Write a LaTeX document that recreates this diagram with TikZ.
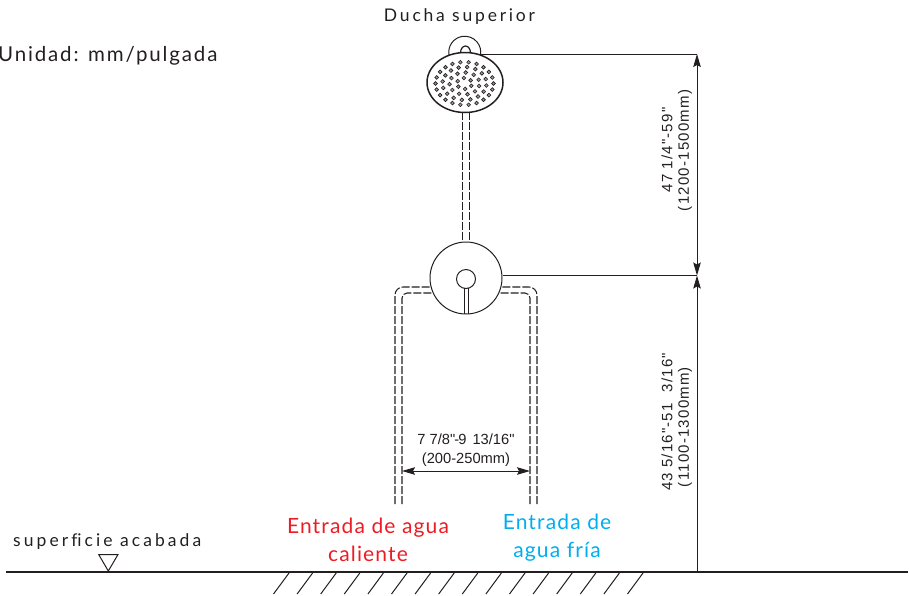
\documentclass[tikz,border=0pt]{standalone}
\usepackage{fontspec}
\setmainfont{Lato}
\newfontfamily\dimfont{Liberation Sans}
\newfontfamily\dimfontr[LetterSpace=8]{Liberation Sans}
\newfontfamily\lblfont[LetterSpace=16]{Lato}
\newfontfamily\surffont[LetterSpace=17.5]{Lato}
\newfontfamily\unitfont[LetterSpace=9]{Lato}
\newfontfamily\lblfontb[LetterSpace=5.5]{Lato}
\usetikzlibrary{arrows.meta,shapes.geometric}
\definecolor{ink}{HTML}{231F20}
\definecolor{hotc}{HTML}{ED1C24}
\definecolor{coldc}{HTML}{00AEEF}
\tikzset{
  x=1pt,y=-1pt,
  thinline/.style={draw=ink,line width=1pt},
  thickline/.style={draw=ink,line width=1.5pt},
  pipe/.style={draw=ink,line width=1.05pt,dash pattern=on 8pt off 2pt},
  tip/.tip={Stealth[length=13pt,width=7.5pt,inset=2pt]},
  dimarrow/.style={draw=ink,line width=1pt,tip-tip},
  dimtext/.style={font=\dimfontr\fontsize{15}{16}\selectfont,text=ink,inner sep=0pt,rotate=90},
  dimtexth/.style={font=\dimfont\fontsize{14.7}{16}\selectfont,text=ink,inner sep=0pt},
  lbl/.style={font=\lblfont\fontsize{17.5}{18}\selectfont,text=ink,inner sep=0pt},
  inlet/.style={font=\lblfontb\fontsize{21}{28}\selectfont,inner sep=0pt,align=center},
  spray/.style={circle,draw=ink,line width=0.6pt,fill=ink!45,minimum size=3.8pt,inner sep=0pt},
}
\begin{document}
\begin{tikzpicture}
\useasboundingbox (0,0) rectangle (909,595);
% labels
\node[lbl] (top) at (459.5,17) {Ducha superior};
\node[lbl,font=\unitfont\fontsize{20.5}{21}\selectfont,anchor=west] (unit) at (-2,55.5) {Unidad: mm/pulgada};
\node[lbl,font=\surffont\fontsize{17.5}{18}\selectfont,anchor=west] (surf) at (13,541.5) {superf\kern0pt icie acabada};
\node[inlet,text=hotc] (hot) at (368,540) {Entrada de agua\\ caliente};
\node[inlet,text=coldc] (cold) at (557,538) {Entrada de\\ agua fría};
% hook
\draw[thinline] (449,55) arc[start angle=170,end angle=370,radius=16];
\draw[thinline,line width=1.2pt] (460.5,53) arc[start angle=180,end angle=360,x radius=5,y radius=7];
% shower head
\node[ellipse,draw=ink,line width=1.5pt,fill=white,minimum width=76pt,minimum height=60pt,inner sep=0pt] (head) at (465,82.5) {};
\coordinate (headtop) at (481,54);
\foreach \rx/\ry/\n/\o in {29/21.5/22/0,22/16.5/16/7,15/11/11/13,7.5/5.5/6/25}{
  \foreach \i in {1,...,\n}{
    \node[spray] (d\rx-\i) at ({464.5+\rx*cos(\o+360*\i/\n)},{83.5+\ry*sin(\o+360*\i/\n)}) {};
  }
}
% vertical riser
\coordinate (ra1) at (462.4,112); \coordinate (rb1) at (462.4,243);
\coordinate (ra2) at (469.6,112); \coordinate (rb2) at (469.6,243);
\draw[pipe] (ra1) -- (rb1);
\draw[pipe] (ra2) -- (rb2);
% supply pipes
\coordinate (le) at (395,504); \coordinate (li) at (402,504);
\coordinate (re) at (537,504); \coordinate (ri) at (530,504);
\draw[pipe] (le) -- (395,295) arc[start angle=180,end angle=270,radius=8] -- (432,287);
\draw[pipe] (li) -- (402,298) arc[start angle=180,end angle=270,radius=5] -- (432,293);
\draw[pipe] (re) -- (537,295) arc[start angle=0,end angle=-90,radius=8] -- (500,287);
\draw[pipe] (ri) -- (530,298) arc[start angle=0,end angle=-90,radius=5] -- (500,293);
% valve
\node[circle,draw=ink,line width=1pt,fill=white,minimum size=72pt,inner sep=0pt] (valve) at (466,278) {};
\node[circle,draw=ink,line width=1pt,fill=white,minimum size=19pt,inner sep=0pt] (knob) at (466,279) {};
\draw[thinline] (464.3,288) -- (464.3,313.8);
\draw[thinline] (468.2,288) -- (468.2,313.8);
% dimension lines
\coordinate (d1) at (697,54); \coordinate (d2) at (697,275.5); \coordinate (d3) at (697,572);
\coordinate (g1) at (6,572); \coordinate (g2) at (908,572);
\draw[thinline] (headtop) -- (d1);
\draw[thinline] (valve.east |- d2) -- (d2);
\draw[dimarrow] (d1) -- (d2);
\draw[draw=ink,line width=1pt,tip-] (d2) -- (d3);
\draw[dimarrow] (li |- 0,471) -- (ri |- 0,471);
\node[dimtexth] (w1) at (466,439) {7 7/8"\kern-1pt-\kern-1pt 9\kern2pt\ 13/16"};
\node[dimtexth] (w2) at (466,460) {(200-250mm)};
\node[dimtext] (h1) at (667,150) {47 1/4"-59"};
\node[dimtext] (h2) at (685,150.5) {(1200-1500mm)};
\node[dimtext] (h3) at (667,422) {43 5/16"-51\ \ 3/16"};
\node[dimtext] (h4) at (685,427) {(1100-1300mm)};
% ground
\draw[thickline] (g1) -- (g2);
\coordinate (t1) at (98.7,554.5); \coordinate (t2) at (118,554.5); \coordinate (t3) at (108.3,571);
\draw[thinline,line join=miter] (t1) -- (t2) -- (t3) -- cycle;
\foreach \i in {0,...,15}{
  \draw[thinline] ({289+\i*23.6},573) -- ({273.5+\i*23.6},594);
}
\end{tikzpicture}
\end{document}
